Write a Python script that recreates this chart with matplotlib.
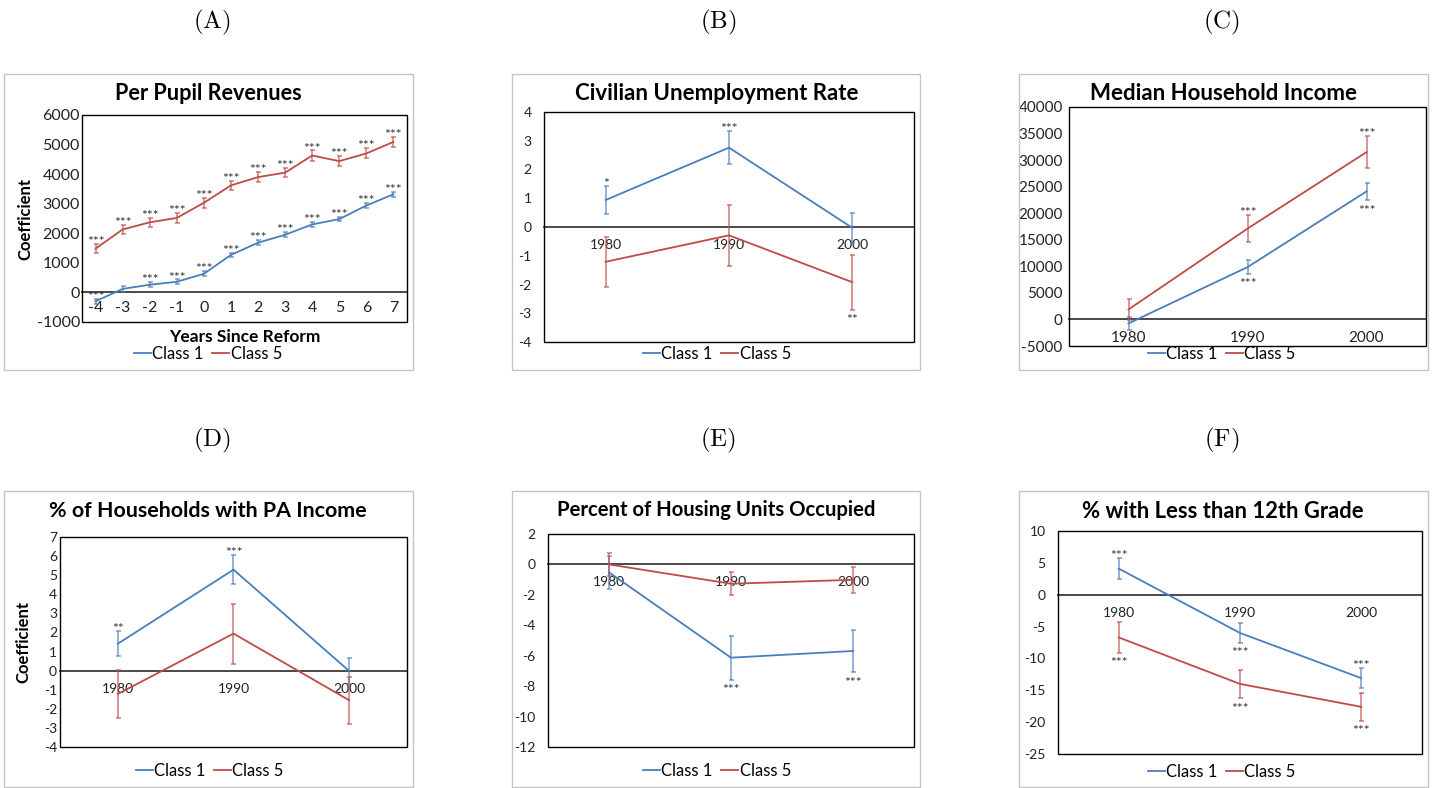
import numpy as np
import matplotlib
matplotlib.use('Agg')
import matplotlib.pyplot as plt
from matplotlib.patches import Rectangle

plt.rcParams['font.family'] = ['Lato', 'DejaVu Sans']
plt.rcParams['mathtext.fontset'] = 'cm'
plt.rcParams['axes.unicode_minus'] = False

W, H = 1432, 788
BLUE = '#4a7ebb'
RED = '#be4b48'

# ---- data ----------------------------------------------------------
years_since = ['-4', '-3', '-2', '-1', '0', '1', '2', '3', '4', '5', '6', '7']
census_years = ['1980', '1990', '2000']

rev_c1 = [-300, 120, 260, 360, 630, 1270, 1680, 1950, 2300, 2480, 2940, 3320]
rev_c1_err = [90, 90, 80, 80, 90, 80, 90, 80, 80, 80, 80, 90]
rev_c1_sig = ['***', '', '***', '***', '***', '***', '***', '***', '***', '***', '***', '***']
rev_c5 = [1480, 2130, 2370, 2520, 3030, 3620, 3900, 4050, 4630, 4440, 4700, 5090]
rev_c5_err = [150, 160, 160, 160, 160, 150, 160, 160, 170, 170, 170, 180]
rev_c5_sig = ['***'] * 12

unemp_c1 = [0.94, 2.76, -0.03]
unemp_c1_err = [0.49, 0.57, 0.52]
unemp_c1_sig = ['*', '***', '']
unemp_c5 = [-1.21, -0.29, -1.92]
unemp_c5_err = [0.86, 1.07, 0.95]
unemp_c5_sig = ['', '', '**']

income_c1 = [-750, 9850, 24100]
income_c1_err = [1250, 1250, 1600]
income_c1_sig = ['', '***', '***']
income_c5 = [1880, 17100, 31500]
income_c5_err = [1900, 2500, 3000]
income_c5_sig = ['', '***', '***']

pa_c1 = [1.41, 5.29, -0.02]
pa_c1_err = [0.66, 0.77, 0.68]
pa_c1_sig = ['**', '***', '']
pa_c5 = [-1.22, 1.94, -1.55]
pa_c5_err = [1.24, 1.57, 1.22]
pa_c5_sig = ['', '', '']

occ_c1 = [-0.52, -6.13, -5.69]
occ_c1_err = [1.1, 1.45, 1.4]
occ_c1_sig = ['', '***', '***']
occ_c5 = [0.0, -1.27, -1.01]
occ_c5_err = [0.75, 0.76, 0.85]
occ_c5_sig = ['', '', '']

grade_c1 = [4.1, -6.0, -13.1]
grade_c1_err = [1.6, 1.55, 1.55]
grade_c1_sig = ['***', '***', '***']
grade_c5 = [-6.7, -14.0, -17.6]
grade_c5_err = [2.4, 2.2, 2.15]
grade_c5_sig = ['***', '***', '***']

# which side of the error bar each significance mark sits on
up3, down3 = ['up'] * 3, ['down'] * 3


def px_rect(l, t, r, b):
    return [l / W, 1 - b / H, (r - l) / W, (b - t) / H]


def draw_panel(fig, letter, letter_xy, box, plot, title, title_xy, cats,
               series, ylim, ystep, fs, ypad, xpad, legend_xy,
               ylabel=None, ylabel_x=None, xlabel=None, xlabel_y=None,
               title_fs=15, star_fs=10):
    # light outer frame of the chart object
    fig.add_artist(Rectangle((box[0] / W, 1 - box[3] / H),
                             (box[2] - box[0]) / W, (box[3] - box[1]) / H,
                             transform=fig.transFigure, fill=False,
                             ec='#c4c4c4', lw=1.0))
    fig.text(letter_xy[0] / W, 1 - letter_xy[1] / H,
             r'$\mathrm{(%s)}$' % letter, ha='center', va='center', fontsize=18)

    ax = fig.add_axes(px_rect(*plot))
    x = np.arange(len(cats))
    handles = []
    for vals, errs, sigs, sides, color, name in series:
        ax.errorbar(x, vals, yerr=errs, fmt='none', ecolor=color, alpha=0.75,
                    elinewidth=1.1, capsize=1.8, capthick=1.1, zorder=3)
        ln, = ax.plot(x, vals, color=color, lw=1.3, label=name, zorder=4)
        handles.append(ln)
        for xi, v, e, s, side in zip(x, vals, errs, sigs, sides):
            if not s:
                continue
            if side == 'up':
                ax.annotate(s, (xi, v + e), xytext=(0, -1.5),
                            textcoords='offset points', ha='center',
                            va='baseline', fontsize=star_fs, color='#333333')
            else:
                ax.annotate(s, (xi, v - e), xytext=(0, -10.5),
                            textcoords='offset points', ha='center',
                            va='baseline', fontsize=star_fs, color='#333333')

    ax.set_xlim(-0.5, len(cats) - 0.5)
    ax.set_ylim(*ylim)
    ax.set_yticks(np.arange(ylim[0], ylim[1] + ystep / 2, ystep))
    ax.set_xticks(x)
    ax.set_xticklabels(cats)
    ax.tick_params(axis='y', length=0, pad=ypad, labelsize=fs, labelcolor='#222222')
    ax.tick_params(axis='x', length=0, pad=xpad, labelsize=fs, labelcolor='#222222')
    for side in ('top', 'right', 'left'):
        ax.spines[side].set_visible(False)
    ax.spines['bottom'].set_position(('data', 0))
    ax.spines['bottom'].set_color('#3a3a3a')
    ax.spines['bottom'].set_linewidth(1.3)
    ax.spines['bottom'].set_zorder(2)
    ax.add_patch(Rectangle((0, 0), 1, 1, transform=ax.transAxes, fill=False,
                           ec='black', lw=1.0, clip_on=False, zorder=5))

    fig.text(title_xy[0] / W, 1 - title_xy[1] / H, title, ha='center',
             va='center', fontsize=title_fs, fontweight='bold')
    if ylabel:
        fig.text(ylabel_x / W, 1 - (plot[1] + plot[3]) / 2 / H, ylabel,
                 rotation=90, ha='center', va='center', fontsize=12,
                 fontweight='bold')
    if xlabel:
        fig.text((plot[0] + plot[2]) / 2 / W, 1 - xlabel_y / H, xlabel,
                 ha='center', va='center', fontsize=12.5, fontweight='bold')
    ax.legend(handles=handles, loc='center',
              bbox_to_anchor=(legend_xy[0] / W, 1 - legend_xy[1] / H),
              bbox_transform=fig.transFigure, ncol=2, frameon=False,
              fontsize=12, handlelength=1.0, handletextpad=0.1,
              columnspacing=0.5, borderpad=0)
    return ax


fig = plt.figure(figsize=(W / 100, H / 100), dpi=100)

draw_panel(fig, 'A', (212, 22), (4, 74, 413, 370), (82, 115, 407, 322),
           'Per Pupil Revenues', (208, 93), years_since,
           [(rev_c1, rev_c1_err, rev_c1_sig, ['up'] * 12, BLUE, 'Class 1'),
            (rev_c5, rev_c5_err, rev_c5_sig, ['up'] * 12, RED, 'Class 5')],
           (-1000, 6000), 1000, 11.5, 1.5, 6.0, (208, 354),
           ylabel='Coefficient', ylabel_x=25,
           xlabel='Years Since Reform', xlabel_y=337, title_fs=15.6)

draw_panel(fig, 'B', (718, 22), (512, 74, 920, 370), (544, 112, 914, 342),
           'Civilian Unemployment Rate', (717, 94), census_years,
           [(unemp_c1, unemp_c1_err, unemp_c1_sig, up3, BLUE, 'Class 1'),
            (unemp_c5, unemp_c5_err, unemp_c5_sig, down3, RED, 'Class 5')],
           (-4, 4), 1, 10, 9, 8.5, (717, 354), title_fs=16)

draw_panel(fig, 'C', (1222, 22), (1019, 74, 1428, 370), (1069, 107, 1426, 346),
           'Median Household Income', (1223, 94), census_years,
           [(income_c1, income_c1_err, income_c1_sig, down3, BLUE, 'Class 1'),
            (income_c5, income_c5_err, income_c5_sig, up3, RED, 'Class 5')],
           (-5000, 40000), 5000, 11, 4.5, 8.5, (1222, 354), title_fs=16)

draw_panel(fig, 'D', (212, 440), (4, 491, 413, 787), (60, 537, 407, 747),
           '% of Households with PA Income', (208, 511), census_years,
           [(pa_c1, pa_c1_err, pa_c1_sig, up3, BLUE, 'Class 1'),
            (pa_c5, pa_c5_err, pa_c5_sig, up3, RED, 'Class 5')],
           (-4, 7), 1, 10, 2.2, 9, (210, 771),
           ylabel='Coefficient', ylabel_x=23, title_fs=15.4)

draw_panel(fig, 'E', (718, 440), (512, 491, 920, 787), (548, 534, 914, 747),
           'Percent of Housing Units Occupied', (716, 510), census_years,
           [(occ_c1, occ_c1_err, occ_c1_sig, down3, BLUE, 'Class 1'),
            (occ_c5, occ_c5_err, occ_c5_sig, up3, RED, 'Class 5')],
           (-12, 2), 2, 10, 9, 8.5, (717, 771), title_fs=14.6)

draw_panel(fig, 'F', (1222, 440), (1019, 491, 1428, 787), (1058, 531, 1422, 754),
           '% with Less than 12th Grade', (1223, 511), census_years,
           [(grade_c1, grade_c1_err, grade_c1_sig, ['up', 'down', 'up'], BLUE, 'Class 1'),
            (grade_c5, grade_c5_err, grade_c5_sig, down3, RED, 'Class 5')],
           (-25, 10), 5, 10, 9, 8.5, (1222, 772), title_fs=15.8)

fig.savefig('out.png', dpi=100)
